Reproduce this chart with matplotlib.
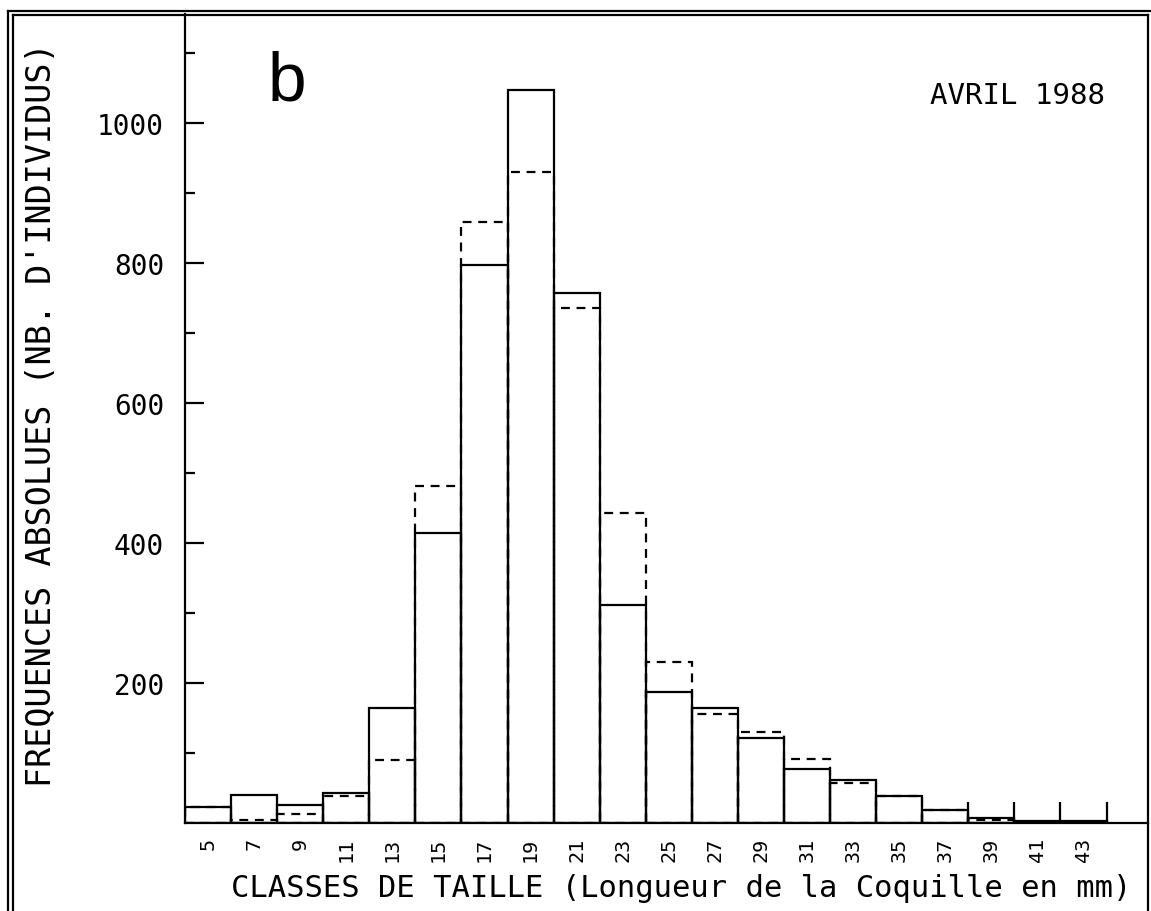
import numpy as np
import matplotlib
matplotlib.use("Agg")
import matplotlib.pyplot as plt
from matplotlib.lines import Line2D

# classes de taille (mm) et effectifs
classes = [5, 7, 9, 11, 13, 15, 17, 19, 21, 23, 25, 27, 29, 31, 33, 35, 37, 39, 41, 43]
freq_obs = [23, 40, 26, 43, 164, 414, 797, 1047, 757, 311, 187, 164, 121, 77, 62, 38, 18, 7, 3, 3]
freq_dash = [23, 4, 13, 39, 90, 481, 859, 930, 736, 443, 230, 156, 130, 91, 57, 38, 18, 5, 2, 2]
# traits verticaux isoles en bout de distribution
edge_x = [38, 40, 42, 44]
edge_h = [30, 30, 30, 30]

y_major = [200, 400, 600, 800, 1000]
y_minor = [100, 300, 500, 700, 900, 1100]

mono = "DejaVu Sans Mono"

fig = plt.figure(figsize=(11.51, 9.12), dpi=100)
ax = fig.add_axes([185 / 1151, 88 / 912, (1148 - 185) / 1151, (824 - 15) / 912])

# histogramme en pointilles puis en trait plein
ax.bar(classes, freq_dash, width=2, fill=False, edgecolor="black",
       linewidth=1.6, linestyle=(0, (4, 3)))
ax.bar(classes, freq_obs, width=2, fill=False, edgecolor="black", linewidth=1.6)
ax.vlines(edge_x, 0, edge_h, color="black", linewidth=1.6)

ax.set_xlim(4, 45.8)
ax.set_ylim(0, 1156)

for s in ["top", "right"]:
    ax.spines[s].set_visible(False)
ax.spines["left"].set_linewidth(1.6)
ax.spines["bottom"].set_linewidth(1.6)

ax.set_xticks(classes)
ax.set_xticklabels([str(c) for c in classes], rotation=90, fontsize=14.5, family=mono)
ax.tick_params(axis="x", length=0, pad=10)

ax.set_yticks(y_major)
ax.set_yticklabels([str(v) for v in y_major], fontsize=20, family=mono)
ax.set_yticks(y_minor, minor=True)
ax.tick_params(axis="y", which="major", direction="in", length=14, width=1.6, pad=15)
ax.tick_params(axis="y", which="minor", direction="in", length=7, width=1.6)

ax.set_xlabel("CLASSES DE TAILLE (Longueur de la Coquille en mm)",
              fontsize=22, family=mono)
ax.xaxis.set_label_coords(0.515, -0.062)
ax.set_ylabel("FREQUENCES ABSOLUES (NB. D'INDIVIDUS)", fontsize=24, family=mono)
ax.yaxis.set_label_coords(-0.132, 0.506)

ax.text(0.086, 0.917, "b", transform=ax.transAxes, fontsize=50,
        family="Liberation Sans", ha="left", va="center")
ax.text(0.955, 0.90, "AVRIL 1988", transform=ax.transAxes, fontsize=21,
        family=mono, ha="right", va="center")

# cadre double autour de la figure
W, H = 1151, 912
def fl(x0, y0, x1, y1, lw=1.6):
    fig.add_artist(Line2D([x0 / W, x1 / W], [1 - y0 / H, 1 - y1 / H],
                          color="black", linewidth=lw, transform=fig.transFigure))

fl(8, 12, 8, 912)
fl(13, 16, 13, 912)
fl(8, 12, 1151, 12)
fl(13, 16, 1148, 16)
fl(1148, 16, 1148, 912)

fig.savefig("out.png", dpi=100)
